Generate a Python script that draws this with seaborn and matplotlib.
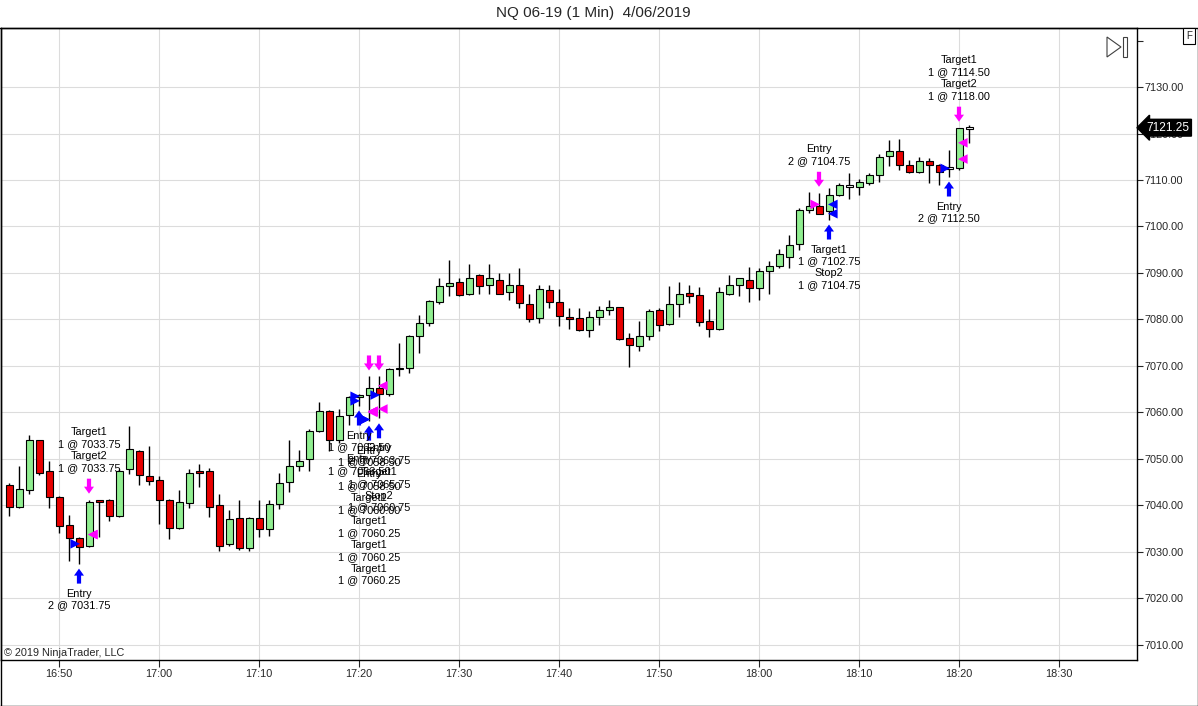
import numpy as np
import pandas as pd
import seaborn as sns
import matplotlib.pyplot as plt
from matplotlib.patches import FancyArrow, Polygon, Rectangle
from matplotlib.lines import Line2D

# 1 minute bars, NQ 06-19, starting 16:45
opens = [7044.50, 7039.75, 7043.25, 7054.00, 7047.50, 7041.75, 7035.75, 7033.00, 7031.25, 7041.25,
         7041.25, 7037.75, 7047.75, 7051.75, 7046.25, 7045.50, 7041.25, 7035.25, 7040.50, 7047.50,
         7047.50, 7040.00, 7031.75, 7037.25, 7030.75, 7037.25, 7035.00, 7040.25, 7045.00, 7048.50,
         7050.00, 7056.00, 7060.25, 7054.00, 7059.50, 7063.25, 7063.75, 7065.25, 7064.00, 7069.25,
         7069.50, 7076.50, 7079.25, 7083.75, 7087.25, 7088.00, 7085.50, 7089.50, 7087.50, 7088.50,
         7086.00, 7087.50, 7083.25, 7080.25, 7086.25, 7083.75, 7080.50, 7080.25, 7077.75, 7080.50,
         7082.00, 7082.75, 7076.00, 7074.25, 7076.50, 7082.00, 7079.00, 7083.25, 7085.75, 7085.25,
         7079.75, 7078.00, 7085.50, 7087.50, 7088.50, 7086.75, 7090.50, 7091.50, 7093.50, 7096.25,
         7103.50, 7104.50, 7103.25, 7106.75, 7108.75, 7108.50, 7109.25, 7111.00, 7115.25, 7116.25,
         7113.25, 7111.75, 7114.00, 7113.25, 7112.50, 7112.50, 7121.25]
highs = [7044.75, 7048.50, 7055.25, 7054.00, 7049.50, 7042.00, 7038.00, 7033.25, 7041.25, 7041.25,
         7041.50, 7047.75, 7057.00, 7052.00, 7052.75, 7046.25, 7041.50, 7043.25, 7047.75, 7049.00,
         7048.00, 7042.50, 7039.00, 7041.25, 7037.50, 7041.25, 7041.25, 7047.00, 7054.00, 7052.00,
         7056.50, 7062.25, 7060.50, 7060.75, 7063.50, 7064.00, 7067.75, 7067.75, 7069.50, 7075.00,
         7076.75, 7081.00, 7084.25, 7089.00, 7092.75, 7089.00, 7092.00, 7089.75, 7092.00, 7090.00,
         7090.00, 7091.00, 7085.50, 7087.50, 7087.50, 7086.50, 7082.50, 7082.50, 7081.75, 7083.00,
         7084.25, 7082.75, 7077.00, 7079.75, 7082.25, 7082.50, 7087.25, 7088.00, 7087.50, 7087.00,
         7082.25, 7087.00, 7089.50, 7089.00, 7091.25, 7091.00, 7092.50, 7095.25, 7098.25, 7104.00,
         7107.50, 7107.25, 7108.25, 7109.25, 7111.50, 7110.25, 7111.50, 7115.50, 7118.50, 7118.75,
         7114.25, 7115.00, 7114.75, 7113.50, 7116.50, 7121.25, 7121.75]
lows = [7037.75, 7039.50, 7042.50, 7046.50, 7039.50, 7034.00, 7028.00, 7027.50, 7031.00, 7033.25,
        7036.75, 7037.50, 7046.75, 7044.50, 7044.50, 7036.00, 7032.75, 7035.00, 7039.50, 7044.00,
        7037.50, 7030.25, 7031.25, 7030.50, 7030.25, 7033.25, 7033.50, 7039.25, 7043.00, 7047.50,
        7047.50, 7055.75, 7051.75, 7053.50, 7057.25, 7061.50, 7058.25, 7058.75, 7063.50, 7067.75,
        7068.50, 7072.75, 7078.50, 7083.25, 7085.00, 7085.00, 7085.25, 7085.50, 7085.50, 7085.50,
        7084.25, 7082.50, 7079.50, 7079.25, 7082.50, 7078.50, 7078.00, 7077.50, 7076.25, 7078.75,
        7081.00, 7075.50, 7069.75, 7073.25, 7075.50, 7077.50, 7078.75, 7080.50, 7083.50, 7078.50,
        7076.25, 7077.75, 7085.25, 7085.00, 7083.75, 7084.25, 7085.50, 7091.00, 7091.00, 7095.00,
        7103.00, 7102.75, 7101.50, 7106.50, 7106.00, 7106.75, 7109.00, 7109.50, 7113.00, 7112.25,
        7111.50, 7111.50, 7109.25, 7109.00, 7110.75, 7112.25, 7118.00]
closes = [7039.75, 7043.50, 7054.00, 7047.00, 7041.75, 7035.50, 7033.00, 7031.00, 7040.75, 7040.75,
          7037.75, 7047.50, 7052.25, 7046.50, 7045.25, 7041.25, 7035.25, 7040.75, 7047.00, 7047.00,
          7039.75, 7031.25, 7037.00, 7030.75, 7037.25, 7035.00, 7040.25, 7044.75, 7048.50, 7049.50,
          7056.00, 7060.25, 7054.00, 7059.25, 7063.25, 7063.75, 7065.25, 7064.00, 7069.25, 7069.50,
          7076.50, 7079.25, 7084.00, 7087.25, 7087.75, 7085.25, 7089.00, 7087.25, 7089.00, 7085.50,
          7087.50, 7083.50, 7080.00, 7086.50, 7083.75, 7080.75, 7080.00, 7077.75, 7080.50, 7082.00,
          7082.75, 7075.75, 7074.50, 7076.50, 7081.75, 7078.75, 7083.25, 7085.50, 7085.00, 7079.50,
          7078.00, 7086.00, 7087.50, 7089.00, 7086.75, 7090.50, 7091.50, 7094.00, 7096.00, 7103.50,
          7104.50, 7102.75, 7106.75, 7109.00, 7108.75, 7109.50, 7111.00, 7115.00, 7116.25, 7113.25,
          7111.75, 7114.00, 7113.25, 7111.75, 7112.50, 7121.25, 7121.25]

# executions
exec_time = ['16:52', '16:53', '16:53', '17:20', '17:20', '17:21', '17:21', '17:21', '17:21', '17:21',
             '17:21', '17:22', '17:22', '17:22', '18:06', '18:07', '18:07', '18:19', '18:20', '18:20']
exec_side = ['buy', 'sell', 'sell', 'buy', 'buy', 'buy', 'buy', 'sell', 'sell', 'sell',
             'sell', 'buy', 'sell', 'sell', 'sell', 'buy', 'buy', 'buy', 'sell', 'sell']
exec_name = ['Entry', 'Target1', 'Target2', 'Entry', 'Entry', 'Entry', 'Entry', 'Target1', 'Target1', 'Target1',
             'Target1', 'Entry', 'Target1', 'Stop2', 'Entry', 'Target1', 'Stop2', 'Entry', 'Target1', 'Target2']
exec_qty = [2, 1, 1, 1, 1, 1, 1, 1, 1, 1, 1, 2, 1, 1, 2, 1, 1, 2, 1, 1]
exec_price = [7031.75, 7033.75, 7033.75, 7062.50, 7063.50, 7058.50, 7058.50, 7060.00, 7060.25, 7060.25,
              7060.25, 7063.75, 7065.75, 7060.75, 7104.75, 7102.75, 7104.75, 7112.50, 7114.50, 7118.00]

x_tick_labels = ['16:50', '17:00', '17:10', '17:20', '17:30', '17:40', '17:50',
                 '18:00', '18:10', '18:20', '18:30']
y_ticks = [7010, 7020, 7030, 7040, 7050, 7060, 7070, 7080, 7090, 7100, 7110, 7120, 7130]
last_price = 7121.25

UP = '#90EE90'
DOWN = '#E80000'
BUY = '#0000FF'
SELL = '#FF00FF'
GRID = '#DCDCDC'
W, H = 1198, 706

sns.set_style('white')
plt.rcParams['font.family'] = ['Liberation Sans', 'DejaVu Sans']
FS = 7.8

t0 = pd.Timestamp('2019-04-06 16:45')
bars = pd.DataFrame({'time': pd.date_range(t0, periods=len(opens), freq='min'),
                     'open': opens, 'high': highs, 'low': lows, 'close': closes})
bars['x'] = np.arange(len(bars))


def bar_of(hhmm):
    return int((pd.Timestamp('2019-04-06 ' + hhmm) - t0).total_seconds() // 60)


fig = plt.figure(figsize=(W / 100, H / 100), dpi=100)
ax = fig.add_axes([1 / W, 46 / H, 1136 / W, 632 / H])
ax.set_xlim(-0.8, 112.8)
ax.set_ylim(7006.77, 7142.69)
ylo, yhi = ax.get_ylim()
ppu = ax.get_position().height * H / (yhi - ylo)   # pixels per point of price

# grid
tick_bars = [bar_of(t) for t in x_tick_labels]
for xb in tick_bars:
    ax.axvline(xb, color=GRID, lw=0.8, zorder=0)
for yv in y_ticks:
    ax.axhline(yv, color=GRID, lw=0.8, zorder=0)

# candles
ax.vlines(bars.x, bars.low, bars.high, color='black', lw=1, zorder=2)
doji = bars.close == bars.open
bottom = np.where(doji, bars.open - 0.2, np.minimum(bars.open, bars.close))
height = np.where(doji, 0.4, (bars.close - bars.open).abs())
colors = np.where(bars.close > bars.open, UP, np.where(bars.close < bars.open, DOWN, 'white'))
ax.bar(bars.x, height, bottom=bottom, width=0.7, color=colors,
       edgecolor='black', linewidth=0.8, zorder=3)

# execution triangles
ex = pd.DataFrame({'time': exec_time, 'side': exec_side, 'name': exec_name,
                   'qty': exec_qty, 'price': exec_price})
ex['bar'] = ex.time.map(bar_of)
ex['kind'] = np.where(ex.name == 'Entry', 'entry', 'exit')
ex['xpos'] = ex.bar + np.where(ex.kind == 'entry', -0.38, 0.38)
sns.scatterplot(data=ex, x='xpos', y='price', hue='side', style='kind',
                palette={'buy': BUY, 'sell': SELL}, markers={'entry': '>', 'exit': '<'},
                s=48, linewidth=0, legend=False, ax=ax, zorder=5)

# arrows and labels per bar
LINE = 11.8
for b, grp in ex.groupby('bar', sort=False):
    lo, hi = lows[b], highs[b]
    has_buy = (grp.side == 'buy').any()
    has_sell = (grp.side == 'sell').any()
    if has_buy:
        ax.add_patch(FancyArrow(b, lo - 20 / ppu, 0, 15 / ppu, width=0.42, head_width=1.0,
                                head_length=7 / ppu, length_includes_head=True,
                                color=BUY, lw=0, zorder=5))
    if has_sell:
        ax.add_patch(FancyArrow(b, hi + 21 / ppu, 0, -15 / ppu, width=0.42, head_width=1.0,
                                head_length=7 / ppu, length_includes_head=True,
                                color=SELL, lw=0, zorder=5))
    lines = []
    for _, r in grp.iterrows():
        lines += [r['name'], f"{r['qty']} @ {r['price']:.2f}"]
    n = len(lines)
    for k, s in enumerate(lines):
        if has_buy:
            xy, dy = (b, lo), -(30 + k * LINE)
        else:
            xy, dy = (b, hi), 32 + (n - 1 - k) * LINE
        ax.annotate(s, xy=xy, xytext=(0, dy * 0.72), textcoords='offset points',
                    ha='center', va='center', fontsize=FS, color='black', zorder=6)

# axes, ticks
for sp in ax.spines.values():
    sp.set_color('black')
    sp.set_linewidth(1)
ax.set_xticks(tick_bars)
ax.set_xticklabels(x_tick_labels)
ax.yaxis.tick_right()
ax.set_yticks(y_ticks + [7140])
ax.set_yticklabels([f'{v:.2f}' for v in y_ticks] + [''])
ax.tick_params(axis='x', direction='out', length=5, width=0.8, pad=1.5, labelsize=FS, bottom=True)
ax.tick_params(axis='y', direction='out', length=4.5, width=0.8, pad=1.2, labelsize=FS, right=True)
ax.set_xlabel('')
ax.set_ylabel('')

# last price marker
ax.annotate(f'{last_price:.2f}', xy=(1, last_price), xycoords=('axes fraction', 'data'),
            xytext=(6.5, 0), textcoords='offset points', ha='left', va='center',
            fontsize=8.6, color='white', zorder=10, annotation_clip=False,
            bbox=dict(boxstyle='larrow,pad=0.2', fc='black', ec='black'))

ax.annotate('\u00a9 2019 NinjaTrader, LLC', xy=(0, 0), xycoords='axes fraction',
            xytext=(2, 5), textcoords='offset points', ha='left', va='center', fontsize=FS)

# window chrome
fig.text(593 / W, 1 - 13 / H, 'NQ 06-19 (1 Min)  4/06/2019', ha='center', va='center', fontsize=11)


def fx(p):
    return p / W


def fy(p):
    return 1 - p / H


for xs, ys in [([0, 1], [fy(27.5), fy(27.5)]), ([fx(0.5), fx(0.5)], [fy(27.5), fy(705.5)]),
               ([0, 1], [fy(705.5), fy(705.5)]), ([fx(1197.5), fx(1197.5)], [fy(27.5), fy(705.5)])]:
    fig.add_artist(Line2D(xs, ys, color='black', lw=1))
fig.add_artist(Polygon([(fx(1107), fy(37)), (fx(1107), fy(57)), (fx(1121), fy(47))], closed=True,
                       fill=False, ec='#404040', lw=0.8, transform=fig.transFigure))
fig.add_artist(Rectangle((fx(1123), fy(57)), 4 / W, 20 / H, fill=False, ec='#404040', lw=0.8,
                         transform=fig.transFigure))
fig.text(fx(1189), fy(36), 'F', ha='center', va='center', fontsize=7,
         bbox=dict(boxstyle='square,pad=0.3', fc='white', ec='black', lw=0.8))

fig.savefig('out.png', dpi=100)
